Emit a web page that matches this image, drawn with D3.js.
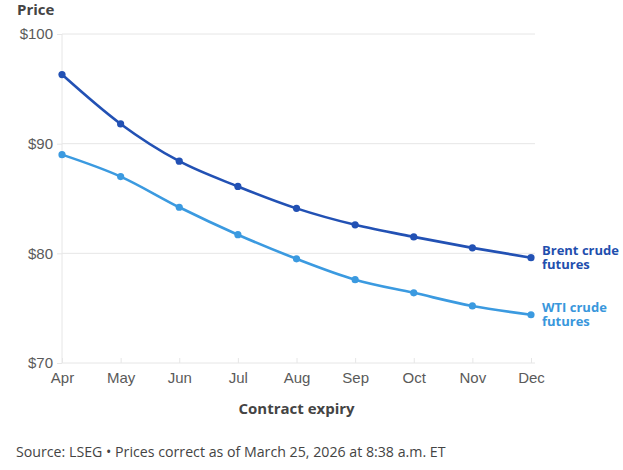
<!DOCTYPE html>
<html>
<head>
<meta charset="utf-8">
<script src="https://cdn.jsdelivr.net/npm/d3@7"></script>
<style>
    body { margin: 0; background: #fff; }
    svg { display: block; font-family: "Open Sans", sans-serif; }
</style>
</head>
<body>
<div id="chart"></div>
<script>
const months = ['Apr', 'May', 'Jun', 'Jul', 'Aug', 'Sep', 'Oct', 'Nov', 'Dec'];
const brent = [96.3, 91.8, 88.4, 86.1, 84.1, 82.6, 81.5, 80.5, 79.6];
const wti = [89.0, 87.0, 84.2, 81.7, 79.5, 77.6, 76.4, 75.2, 74.4];
const yTicks = [70, 80, 90, 100];

const width = 623;
const height = 470;
const margin = { top: 34, right: 92, bottom: 107, left: 62 };

const svg = d3.select('#chart')
    .append('svg')
    .attr('width', width)
    .attr('height', height);

const x = d3.scalePoint()
    .domain(months)
    .range([margin.left, width - margin.right]);

const y = d3.scaleLinear()
    .domain([70, 100])
    .range([height - margin.bottom, margin.top]);

const gridColor = '#e6e6e6';

// horizontal gridlines + y labels
const yAxis = svg.append('g')
    .attr('transform', `translate(${margin.left},0)`)
    .call(d3.axisLeft(y).tickValues(yTicks).tickSize(5).tickPadding(4).tickFormat((d) => `$${d}`));
yAxis.select('.domain').remove();
yAxis.selectAll('line').attr('stroke', gridColor);
yAxis.selectAll('text').attr('fill', '#5a5a5a').attr('font-size', 15);

svg.append('g')
    .selectAll('line')
    .data(yTicks)
    .join('line')
    .attr('x1', margin.left)
    .attr('x2', width - margin.right + 4)
    .attr('y1', (d) => y(d))
    .attr('y2', (d) => y(d))
    .attr('stroke', gridColor);

svg.append('line')
    .attr('x1', margin.left)
    .attr('x2', margin.left)
    .attr('y1', y(100))
    .attr('y2', y(70))
    .attr('stroke', gridColor);

// x axis
const xAxis = svg.append('g')
    .attr('transform', `translate(0,${y(70)})`)
    .call(d3.axisBottom(x).tickSize(-5).tickPadding(9));
xAxis.select('.domain').remove();
xAxis.selectAll('line').attr('stroke', gridColor);
xAxis.selectAll('text').attr('fill', '#5a5a5a').attr('font-size', 15);

const series = [
    { name: ['Brent crude', 'futures'], values: brent, color: '#2251b4', label: '#1f4fae' },
    { name: ['WTI crude', 'futures'], values: wti, color: '#3b9ae0', label: '#3997dc' }
];

const line = d3.line()
    .x((d, i) => x(months[i]))
    .y((d) => y(d))
    .curve(d3.curveMonotoneX);

series.forEach((s) => {
    svg.append('path')
        .datum(s.values)
        .attr('d', line)
        .attr('fill', 'none')
        .attr('stroke', s.color)
        .attr('stroke-width', 2.6);

    svg.append('g')
        .selectAll('circle')
        .data(s.values)
        .join('circle')
        .attr('cx', (d, i) => x(months[i]))
        .attr('cy', (d) => y(d))
        .attr('r', 3.6)
        .attr('fill', s.color);

    const last = s.values[s.values.length - 1];
    const lx = x(months[months.length - 1]) + 11;
    s.name.forEach((part, i) => {
        svg.append('text')
            .attr('x', lx)
            .attr('y', y(last) - 3 + i * 14)
            .attr('fill', s.label)
            .attr('font-size', 13)
            .attr('font-weight', 700)
            .text(part);
    });
});

svg.append('text')
    .attr('x', 17)
    .attr('y', 15)
    .attr('fill', '#444')
    .attr('font-size', 15)
    .attr('font-weight', 700)
    .text('Price');

svg.append('text')
    .attr('x', (margin.left + width - margin.right) / 2)
    .attr('y', 414)
    .attr('text-anchor', 'middle')
    .attr('fill', '#444')
    .attr('font-size', 15)
    .attr('font-weight', 700)
    .text('Contract expiry');

svg.append('text')
    .attr('x', 16)
    .attr('y', 457)
    .attr('fill', '#444')
    .attr('font-size', 14.2)
    .text('Source: LSEG • Prices correct as of March 25, 2026 at 8:38 a.m. ET');
</script>
</body>
</html>
